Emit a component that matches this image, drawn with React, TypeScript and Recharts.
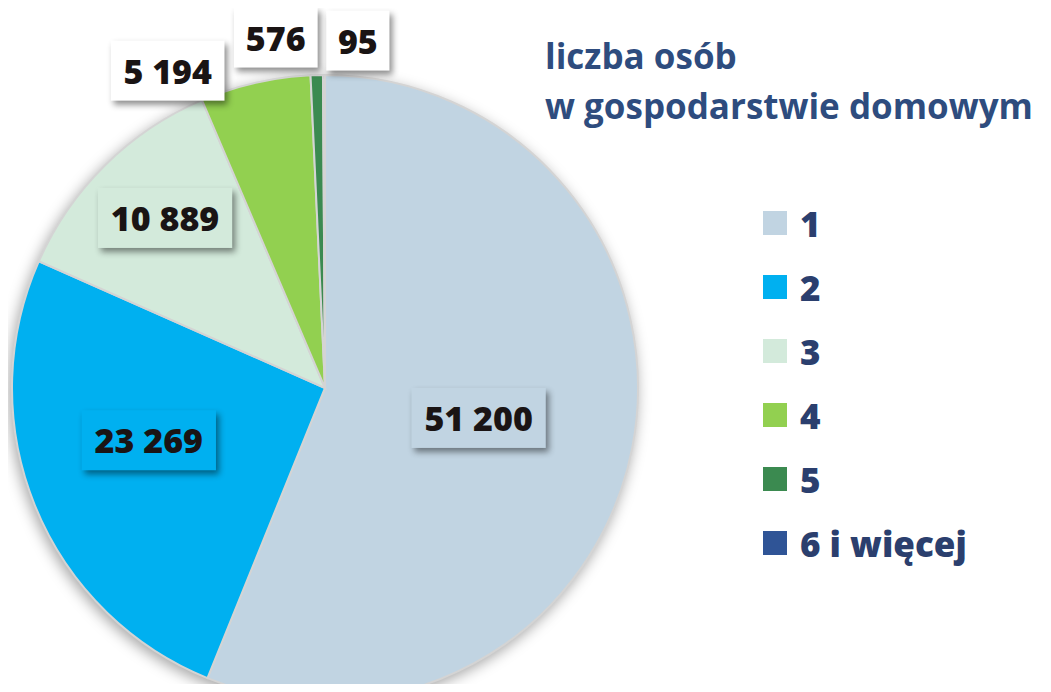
import React from 'react';
import { PieChart, Pie, Cell, Legend } from 'recharts';

const categories = ['1', '2', '3', '4', '5', '6 i więcej'];
const households = [51200, 23269, 10889, 5194, 576, 95];
const valueLabels = ['51 200', '23 269', '10 889', '5 194', '576', '95'];
const colors = ['#c1d4e2', '#00b0f0', '#d3eadb', '#92d050', '#3b8a50', '#2f5496'];

// label placement: radius factor + nudge, box white when it sits outside the pie
const labelPlace = [
  { r: 0.5, dx: 0, dy: 0, outside: false },
  { r: 0.59, dx: -5, dy: -17, outside: false },
  { r: 0.75, dx: 5, dy: -3, outside: false },
  { r: 1.05, dx: -84, dy: 3, outside: true },
  { r: 1.12, dx: -40, dy: 0, outside: true },
  { r: 1.11, dx: 34, dy: 0, outside: true },
];

const data = categories.map((name, i) => ({ name, value: households[i], label: valueLabels[i] }));

const RAD = Math.PI / 180;
const FONT = '"Open Sans", "Noto Sans", sans-serif';

const textWidth = (s: string) =>
  s.split('').reduce((w, ch) => w + (ch === ' ' ? 9.3 : 20.6), 0);

const renderLabel = (props: any) => {
  const { cx, cy, midAngle, outerRadius, index } = props;
  const place = labelPlace[index];
  const r = outerRadius * place.r;
  const x = cx + r * Math.cos(-midAngle * RAD) + place.dx;
  const y = cy + r * Math.sin(-midAngle * RAD) + place.dy;
  const text = valueLabels[index];
  const w = textWidth(text) + 22;
  const h = 60;
  return (
    <g key={`lbl-${index}`}>
      <rect
        x={x - w / 2}
        y={y - h / 2}
        width={w}
        height={h}
        fill={place.outside ? '#ffffff' : colors[index]}
        style={{ filter: 'drop-shadow(3px 4px 3px rgba(0,0,0,0.45))' }}
      />
      <text
        x={x}
        y={y}
        textAnchor="middle"
        dominantBaseline="central"
        fill="#1a1414"
        fontFamily={FONT}
        fontWeight={800}
        fontSize={34}
      >
        {text}
      </text>
    </g>
  );
};

const renderLegend = (props: any) => {
  const { payload } = props;
  return (
    <div style={{ fontFamily: FONT }}>
      {(payload || []).map((entry: any, i: number) => (
        <div key={i} style={{ display: 'flex', alignItems: 'center', height: 64 }}>
          <span style={{ width: 24, height: 24, background: entry.color, display: 'inline-block', marginRight: 13 }} />
          <span style={{ fontSize: 35, fontWeight: 800, color: '#2b3f6e', lineHeight: 1 }}>{entry.value}</span>
        </div>
      ))}
    </div>
  );
};

const App = () => {
  return (
    <div style={{ position: 'relative', width: 1051, height: 692, margin: -8, background: '#fff', overflow: 'hidden' }}>
      <style>{`.recharts-pie { filter: drop-shadow(-2px 4px 7px rgba(0,0,0,0.35)); }`}</style>
      <div
        style={{
          position: 'absolute',
          left: 545,
          top: 31,
          fontFamily: FONT,
          fontWeight: 700,
          fontSize: 35,
          lineHeight: '50px',
          color: '#2e4c7e',
          zIndex: 2,
        }}
      >
        liczba osób
        <br />
        w gospodarstwie domowym
      </div>
      <PieChart width={1051} height={692} margin={{ top: 0, right: 0, bottom: 0, left: 0 }}>
        <Pie
          data={data}
          dataKey="value"
          nameKey="name"
          cx={325}
          cy={388}
          outerRadius={313}
          startAngle={90}
          endAngle={-270}
          stroke="#d4d4d4"
          strokeWidth={2}
          label={renderLabel}
          labelLine={false}
          isAnimationActive={false}
        >
          {data.map((_, i) => (
            <Cell key={i} fill={colors[i]} />
          ))}
        </Pie>
        <Legend
          layout="vertical"
          content={renderLegend}
          wrapperStyle={{ position: 'absolute', left: 763, top: 191, width: 260 }}
        />
      </PieChart>
    </div>
  );
};

export default App;
